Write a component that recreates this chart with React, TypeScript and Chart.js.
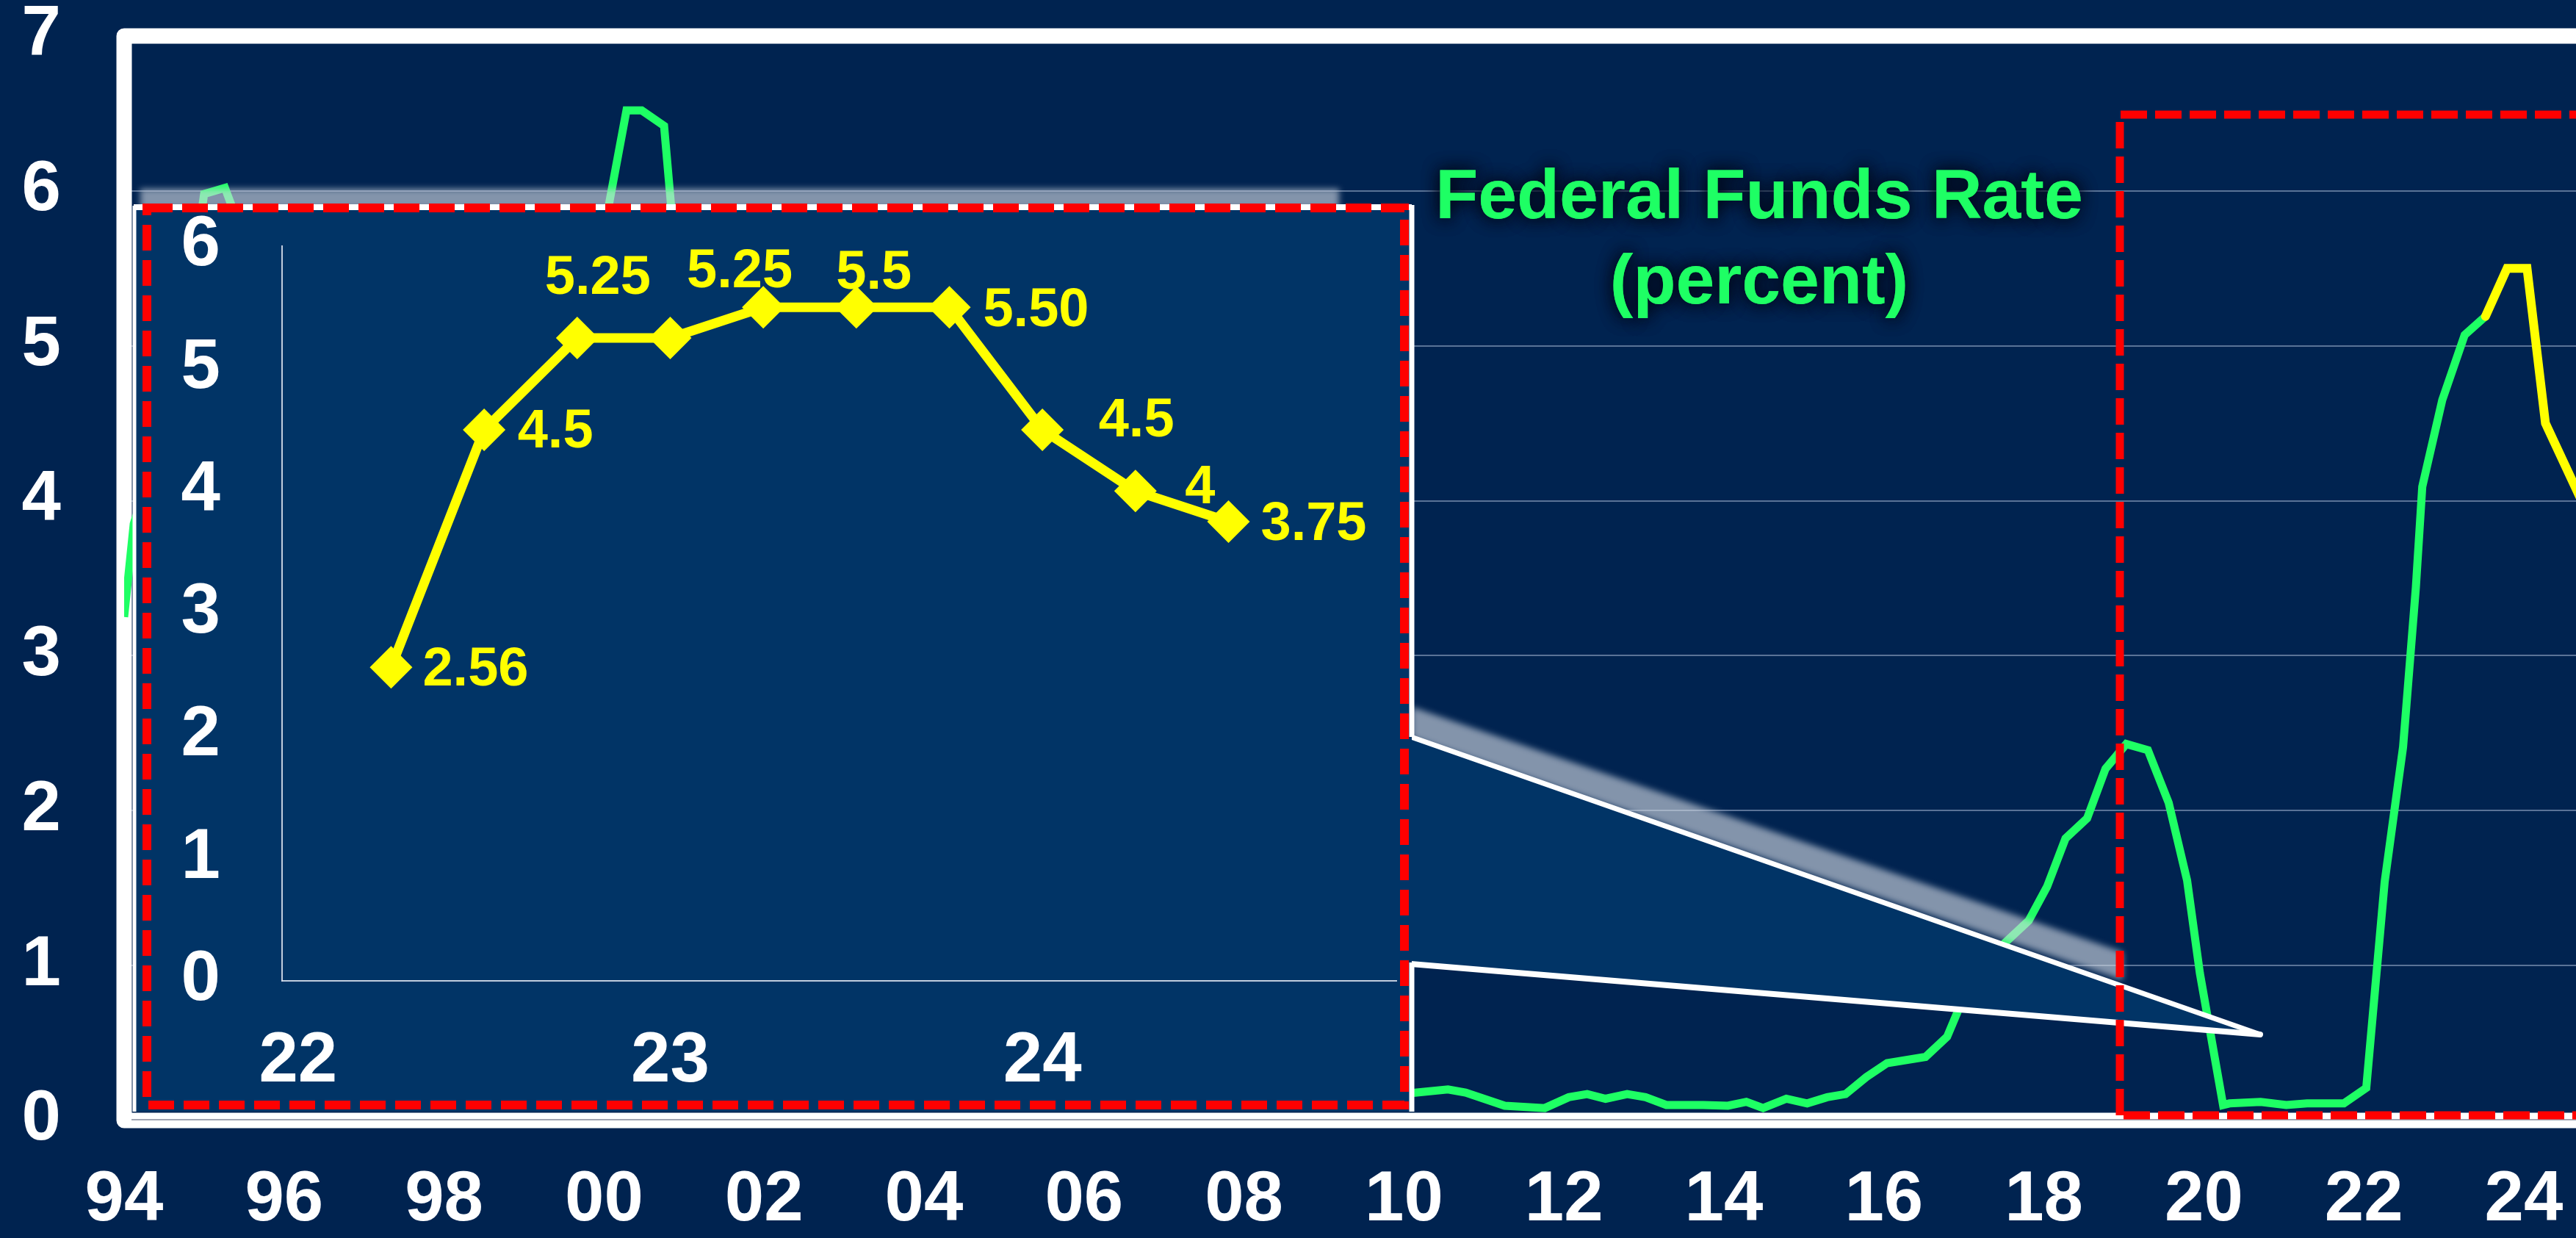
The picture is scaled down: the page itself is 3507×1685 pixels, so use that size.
import React, { useEffect, useRef } from 'react';
import { Chart, registerables } from 'chart.js';

Chart.register(...registerables);

// ---------------- data ----------------
// Federal funds rate (green line), year as decimal
const fedYears = [
  1994.0, 1994.12, 1994.4, 1994.65, 1994.88, 1995.0, 1995.26, 1995.42, 1995.7, 1996.0,
  1996.5, 1997.0, 1997.3, 1998.0, 1998.7, 1998.95, 1999.4, 1999.65, 1999.93, 2000.28,
  2000.47, 2000.75, 2001.0, 2001.3, 2001.6, 2001.9, 2002.3, 2002.85, 2003.5, 2004.4,
  2004.9, 2005.5, 2006.0, 2006.5, 2007.6, 2007.9, 2008.2, 2008.5, 2008.8, 2009.0,
  2009.6, 2010.16, 2010.55, 2010.77, 2011.26, 2011.76, 2012.06, 2012.29, 2012.52, 2012.79,
  2013.02, 2013.28, 2013.74, 2014.05, 2014.28, 2014.49, 2014.78, 2015.04, 2015.29, 2015.52,
  2015.78, 2016.04, 2016.52, 2016.79, 2016.92, 2017.05, 2017.54, 2017.81, 2018.04, 2018.27,
  2018.54, 2018.77, 2019.03, 2019.3, 2019.56, 2019.79, 2019.95, 2020.24, 2020.32, 2020.71,
  2021.03, 2021.29, 2021.75, 2022.03, 2022.26, 2022.49, 2022.65, 2022.73, 2022.98, 2023.26,
  2023.52,
];
const fedRates = [
  3.25, 3.85, 4.3, 4.75, 5.55, 5.98, 6.02, 5.8, 5.75, 5.4,
  5.3, 5.25, 5.5, 5.5, 5.5, 4.8, 4.75, 5.1, 5.55, 6.52,
  6.52, 6.42, 4.95, 4.3, 3.5, 2.0, 1.75, 1.3, 1.0, 1.0,
  2.2, 3.2, 4.4, 5.25, 5.25, 4.5, 3.0, 2.0, 1.0, 0.16,
  0.15, 0.18, 0.2, 0.18, 0.095, 0.08, 0.15, 0.17, 0.14, 0.17,
  0.15, 0.1, 0.1, 0.095, 0.12, 0.08, 0.14, 0.11, 0.15, 0.17,
  0.28, 0.37, 0.41, 0.54, 0.7, 0.92, 1.16, 1.29, 1.51, 1.82,
  1.95, 2.27, 2.43, 2.39, 2.05, 1.55, 0.95, 0.1, 0.11, 0.12,
  0.1, 0.11, 0.11, 0.21, 1.54, 2.41, 3.44, 4.09, 4.65, 5.07,
  5.19,
];
// Recent / projected path (yellow line on the main chart)
const recentYears = [2023.52, 2023.79, 2024.04, 2024.27, 2024.65, 2024.9];
const recentRates = [5.19, 5.5, 5.5, 4.5, 4.08, 3.8];

const mainXTickValues = [1994, 1996, 1998, 2000, 2002, 2004, 2006, 2008, 2010, 2012, 2014, 2016, 2018, 2020, 2022, 2024];
const mainXTickLabels = ['94', '96', '98', '00', '02', '04', '06', '08', '10', '12', '14', '16', '18', '20', '22', '24'];
const mainYTickValues = [0, 1, 2, 3, 4, 5, 6, 7];
const mainYTickLabels = ['0', '1', '2', '3', '4', '5', '6', '7'];

// Inset (quarterly path 2022-2024)
const insetQuarters = [2022.25, 2022.5, 2022.75, 2023.0, 2023.25, 2023.5, 2023.75, 2024.0, 2024.25, 2024.5];
const insetRates = [2.56, 4.5, 5.25, 5.25, 5.5, 5.5, 5.5, 4.5, 4.0, 3.75];
const insetPointLabels = ['2.56', '4.5', '5.25', '', '5.25', '5.5', '5.50', '4.5', '4', '3.75'];
const insetXTickValues = [2022, 2023, 2024];
const insetXTickLabels = ['22', '23', '24'];
const insetYTickValues = [0, 1, 2, 3, 4, 5, 6];
const insetYTickLabels = ['0', '1', '2', '3', '4', '5', '6'];

const titleLines = ['Federal Funds Rate', '(percent)'];

// ---------------- layout / style ----------------
const W = 3507;
const H = 1685;
const FAMILY = '"Liberation Sans", Arial, Helvetica, sans-serif';
const NAVY = '#002350';
const INSET_BLUE = '#013466';
const GREEN = '#1eff64';
const YELLOW = '#ffff00';
const RED = '#ff0000';
const INSET_BOX = { left: 176, top: 270, width: 1754, height: 1243 };
// label offsets for inset point labels (pixels, relative to the point)
const insetLabelOffsets: [number, number][] = [
  [115, 1], [97, 1], [28, -83], [0, 0], [-32, -51], [24, -49], [118, 2], [128, -14], [88, -7], [116, 2],
];

const mainDecor = {
  id: 'mainDecor',
  beforeDraw(chart: any) {
    const ctx = chart.ctx;
    ctx.save();
    ctx.fillStyle = NAVY;
    ctx.fillRect(0, 0, chart.width, chart.height);
    ctx.restore();
  },
  beforeDatasetsDraw(chart: any) {
    const ctx = chart.ctx;
    const { left, top, bottom } = chart.chartArea;
    ctx.save();
    ctx.strokeStyle = '#ffffff';
    ctx.lineWidth = 21;
    ctx.lineJoin = 'round';
    ctx.beginPath();
    ctx.moveTo(chart.width + 40, top);
    ctx.lineTo(left, top);
    ctx.lineTo(left, bottom);
    ctx.lineTo(chart.width + 40, bottom);
    ctx.stroke();
    ctx.strokeStyle = 'rgba(150,155,170,0.9)';
    ctx.lineWidth = 2;
    ctx.beginPath();
    ctx.moveTo(left + 10, bottom - 1);
    ctx.lineTo(chart.width + 40, bottom - 1);
    ctx.stroke();
    ctx.restore();
  },
  afterDraw(chart: any) {
    const ctx = chart.ctx;
    ctx.save();
    // soft shadows
    ctx.filter = 'blur(4px)';
    ctx.fillStyle = 'rgba(212,218,228,0.62)';
    ctx.fillRect(191, 257, 1632, 27);
    ctx.beginPath();
    ctx.moveTo(1922, 962);
    ctx.lineTo(2890, 1296);
    ctx.lineTo(2890, 1334);
    ctx.lineTo(1922, 1004);
    ctx.closePath();
    ctx.fill();
    ctx.filter = 'none';
    // callout triangle
    ctx.fillStyle = INSET_BLUE;
    ctx.beginPath();
    ctx.moveTo(1916, 1003);
    ctx.lineTo(3077, 1408);
    ctx.lineTo(1916, 1312);
    ctx.closePath();
    ctx.fill();
    ctx.strokeStyle = '#ffffff';
    ctx.lineCap = 'round';
    ctx.lineWidth = 7;
    ctx.beginPath();
    ctx.moveTo(1921, 1003);
    ctx.lineTo(3077, 1408);
    ctx.stroke();
    ctx.lineWidth = 8;
    ctx.beginPath();
    ctx.moveTo(1921, 1312);
    ctx.lineTo(3077, 1408);
    ctx.stroke();
    // red dashed highlight box (right)
    ctx.strokeStyle = RED;
    ctx.lineWidth = 11;
    ctx.lineCap = 'butt';
    ctx.setLineDash([36, 11]);
    ctx.beginPath();
    ctx.moveTo(2886, 1518);
    ctx.lineTo(2886, 156);
    ctx.lineTo(W + 40, 156);
    ctx.stroke();
    ctx.beginPath();
    ctx.moveTo(2891, 1518);
    ctx.lineTo(W + 40, 1518);
    ctx.stroke();
    ctx.setLineDash([]);
    // title
    ctx.font = `bold 95px ${FAMILY}`;
    ctx.textAlign = 'center';
    ctx.textBaseline = 'alphabetic';
    ctx.shadowColor = 'rgba(0,8,25,0.95)';
    ctx.shadowBlur = 22;
    ctx.fillStyle = GREEN;
    ctx.fillText(titleLines[0], 2395, 297);
    ctx.fillText(titleLines[1], 2395, 413);
    ctx.fillText(titleLines[0], 2395, 297);
    ctx.fillText(titleLines[1], 2395, 413);
    ctx.restore();
  },
};

const insetDecor = {
  id: 'insetDecor',
  beforeDraw(chart: any) {
    const ctx = chart.ctx;
    ctx.save();
    ctx.clearRect(0, 0, chart.width, chart.height);
    ctx.fillStyle = INSET_BLUE;
    ctx.fillRect(6, 12, 1740, 1231);
    ctx.restore();
  },
  afterDatasetsDraw(chart: any) {
    const ctx = chart.ctx;
    const meta = chart.getDatasetMeta(0);
    ctx.save();
    ctx.font = `bold 74px ${FAMILY}`;
    ctx.textAlign = 'center';
    ctx.textBaseline = 'middle';
    ctx.fillStyle = YELLOW;
    meta.data.forEach((pt: any, i: number) => {
      const label = insetPointLabels[i];
      if (!label) return;
      const [dx, dy] = insetLabelOffsets[i];
      ctx.fillText(label, pt.x + dx, pt.y + dy + 3);
    });
    ctx.restore();
  },
  afterDraw(chart: any) {
    const ctx = chart.ctx;
    ctx.save();
    ctx.strokeStyle = '#ffffff';
    ctx.lineWidth = 8;
    ctx.beginPath();
    ctx.moveTo(6, 12);
    ctx.lineTo(1746, 12);
    ctx.stroke();
    ctx.lineWidth = 5;
    ctx.beginPath();
    ctx.moveTo(7, 10);
    ctx.lineTo(7, 1243);
    ctx.stroke();
    ctx.lineWidth = 7;
    ctx.beginPath();
    ctx.moveTo(1746, 9);
    ctx.lineTo(1746, 733);
    ctx.moveTo(1746, 1040);
    ctx.lineTo(1746, 1243);
    ctx.stroke();
    ctx.strokeStyle = RED;
    ctx.lineWidth = 12;
    ctx.setLineDash([35, 13]);
    ctx.strokeRect(24, 13, 1712, 1221);
    ctx.restore();
  },
};

const tickFont = { family: FAMILY, size: 96, weight: 'bold' as const };

export default function App() {
  const mainRef = useRef<HTMLCanvasElement | null>(null);
  const insetRef = useRef<HTMLCanvasElement | null>(null);

  useEffect(() => {
    document.body.style.background = NAVY;
    const main = new Chart(mainRef.current as HTMLCanvasElement, {
      type: 'line',
      data: {
        datasets: [
          {
            label: 'Recent',
            data: recentYears.map((x, i) => ({ x, y: recentRates[i] })),
            borderColor: YELLOW,
            borderWidth: 12,
            pointRadius: 0,
            borderCapStyle: 'round',
            tension: 0,
            order: 0,
          },
          {
            label: 'Federal Funds Rate',
            data: fedYears.map((x, i) => ({ x, y: fedRates[i] })),
            borderColor: GREEN,
            borderWidth: 11,
            pointRadius: 0,
            tension: 0,
            order: 1,
          },
        ],
      },
      options: {
        responsive: false,
        animation: false,
        events: [],
        layout: { padding: { top: 49, right: 0, bottom: 0, left: 0 } },
        plugins: { legend: { display: false }, tooltip: { enabled: false } },
        scales: {
          x: {
            type: 'linear',
            min: 1994,
            max: 2024.652,
            grid: { display: false, drawTicks: false },
            border: { display: false },
            ticks: {
              color: '#ffffff',
              font: tickFont,
              padding: 52,
              autoSkip: false,
              maxRotation: 0,
              callback: (v: any) => {
                const i = mainXTickValues.indexOf(Number(v));
                return i >= 0 ? mainXTickLabels[i] : '';
              },
            },
            afterBuildTicks: (s: any) => {
              s.ticks = mainXTickValues.map((value) => ({ value }));
            },
            afterFit: (s: any) => {
              s.height = 160;
              s.paddingLeft = 0;
              s.paddingRight = 0;
            },
          },
          y: {
            type: 'linear',
            min: 0,
            max: 7,
            grid: { color: 'rgba(150,168,198,0.6)', lineWidth: 2, drawTicks: false },
            border: { display: false },
            ticks: {
              color: '#ffffff',
              font: tickFont,
              padding: 86,
              callback: (v: any) => {
                const i = mainYTickValues.indexOf(Number(v));
                return i >= 0 ? mainYTickLabels[i] : '';
              },
            },
            afterBuildTicks: (s: any) => {
              s.ticks = mainYTickValues.map((value) => ({ value }));
            },
            afterFit: (s: any) => {
              s.width = 169;
              s.paddingTop = 0;
              s.paddingBottom = 0;
            },
          },
        },
      },
      plugins: [mainDecor],
    } as any);

    const inset = new Chart(insetRef.current as HTMLCanvasElement, {
      type: 'line',
      data: {
        datasets: [
          {
            label: 'Path',
            data: insetQuarters.map((x, i) => ({ x, y: insetRates[i] })),
            borderColor: YELLOW,
            borderWidth: 13,
            pointStyle: 'rectRot',
            pointRadius: 29,
            pointBackgroundColor: YELLOW,
            pointBorderColor: YELLOW,
            pointBorderWidth: 0,
            tension: 0,
          },
        ],
      },
      options: {
        responsive: false,
        animation: false,
        events: [],
        layout: { padding: { top: 65, right: 22, bottom: 0, left: 0 } },
        plugins: { legend: { display: false }, tooltip: { enabled: false } },
        scales: {
          x: {
            type: 'linear',
            min: 2021.957,
            max: 2024.951,
            grid: { display: false, drawTicks: false },
            border: { display: true, color: 'rgba(215,222,235,0.9)', width: 2 },
            ticks: {
              color: '#ffffff',
              font: tickFont,
              padding: 53,
              autoSkip: false,
              maxRotation: 0,
              callback: (v: any) => {
                const i = insetXTickValues.indexOf(Number(v));
                return i >= 0 ? insetXTickLabels[i] : '';
              },
            },
            afterBuildTicks: (s: any) => {
              s.ticks = insetXTickValues.map((value) => ({ value }));
            },
            afterFit: (s: any) => {
              s.height = 178;
              s.paddingLeft = 0;
              s.paddingRight = 0;
            },
          },
          y: {
            type: 'linear',
            min: 0,
            max: 6,
            grid: { display: false, drawTicks: false },
            border: { display: true, color: 'rgba(215,222,235,0.9)', width: 2 },
            ticks: {
              color: '#ffffff',
              font: tickFont,
              padding: 84,
              callback: (v: any) => {
                const i = insetYTickValues.indexOf(Number(v));
                return i >= 0 ? insetYTickLabels[i] : '';
              },
            },
            afterBuildTicks: (s: any) => {
              s.ticks = insetYTickValues.map((value) => ({ value }));
            },
            afterFit: (s: any) => {
              s.width = 208;
              s.paddingTop = 0;
              s.paddingBottom = 0;
            },
          },
        },
      },
      plugins: [insetDecor],
    } as any);

    return () => {
      main.destroy();
      inset.destroy();
    };
  }, []);

  return (
    <div style={{ position: 'absolute', left: 0, top: 0, width: W, height: H, overflow: 'hidden', background: NAVY }}>
      <canvas
        ref={mainRef}
        width={W}
        height={H}
        style={{ position: 'absolute', left: 0, top: 0, width: W, height: H }}
      />
      <canvas
        ref={insetRef}
        width={INSET_BOX.width}
        height={INSET_BOX.height}
        style={{
          position: 'absolute',
          left: INSET_BOX.left,
          top: INSET_BOX.top,
          width: INSET_BOX.width,
          height: INSET_BOX.height,
        }}
      />
    </div>
  );
}
